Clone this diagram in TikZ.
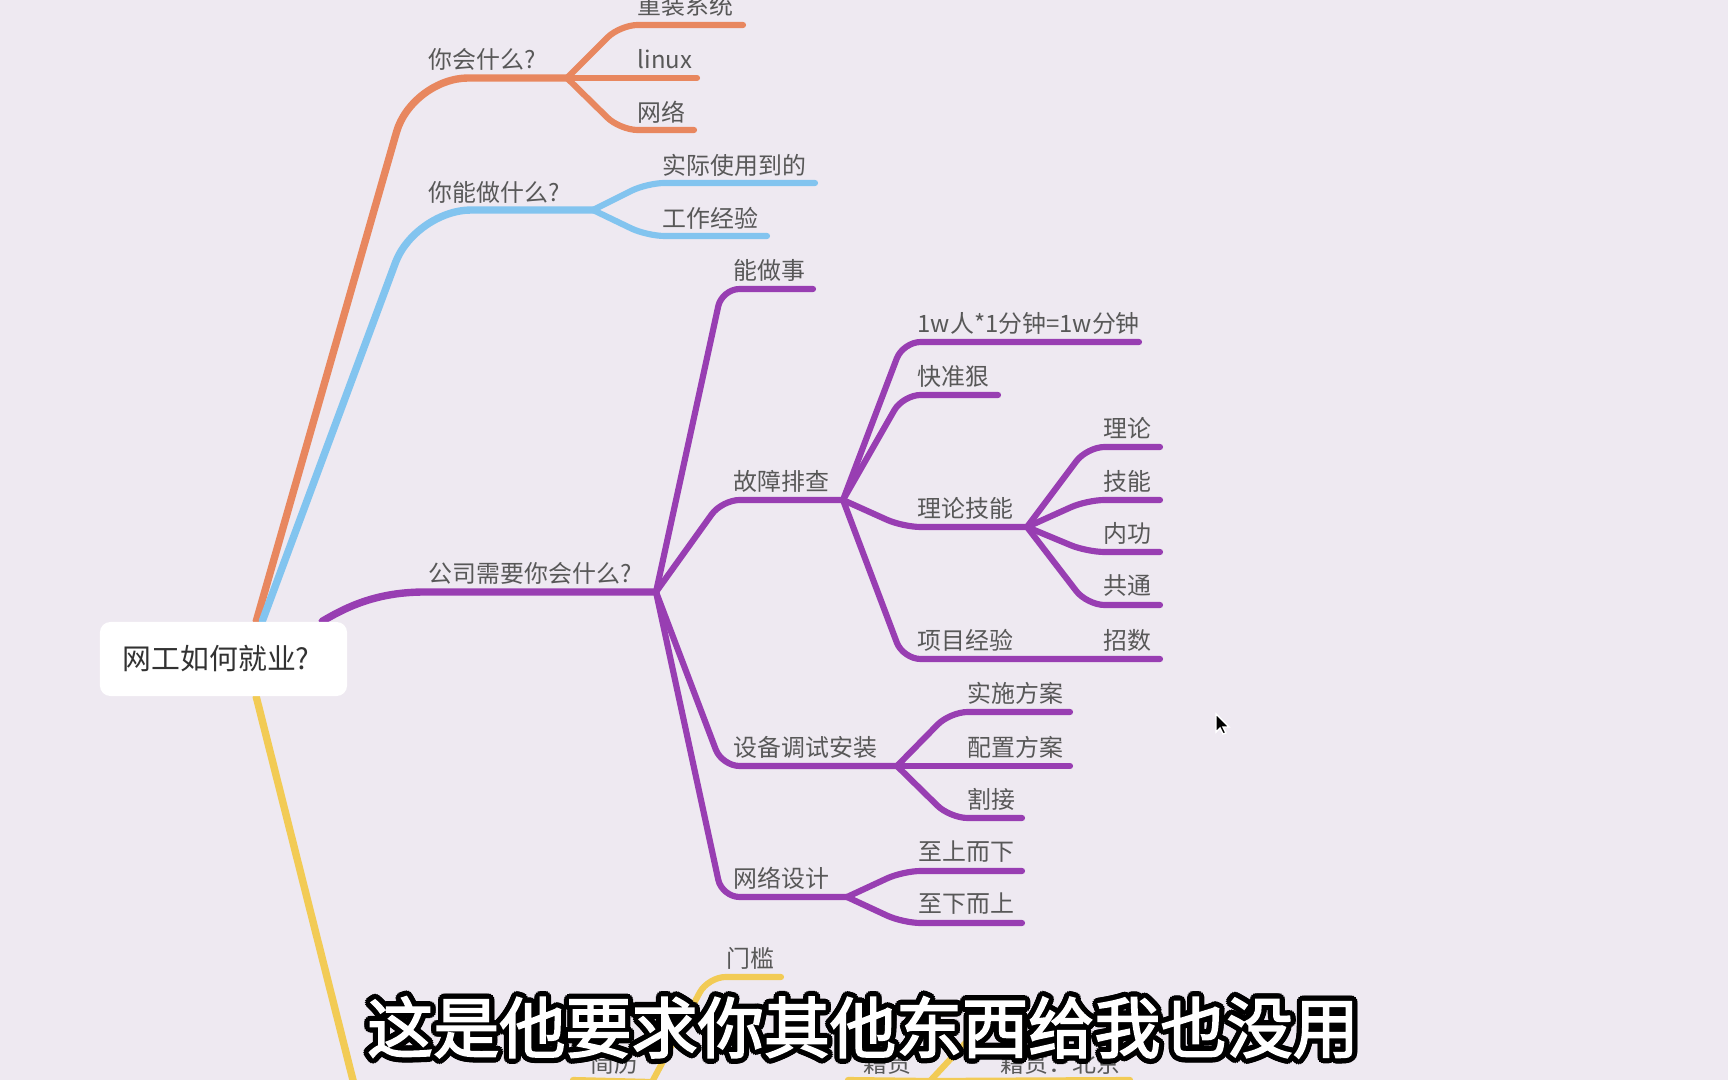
\documentclass[tikz,border=0pt]{standalone}
\usepackage{fontspec}
\setmainfont{Noto Sans CJK SC}
\newfontfamily\subfont[FakeBold=2.5]{Noto Sans CJK SC}
\usepackage{contour}
\contourlength{1.5pt}
\usetikzlibrary{calc}

\definecolor{bgc}{RGB}{238,233,241}
\definecolor{txt}{RGB}{88,88,88}
\definecolor{txtdark}{RGB}{50,50,50}
\definecolor{orng}{RGB}{232,135,95}
\definecolor{blu}{RGB}{130,196,239}
\definecolor{purp}{RGB}{152,62,178}
\definecolor{yel}{RGB}{242,203,85}

\pgfdeclarelayer{lines}
\pgfsetlayers{lines,main}

\begin{document}
\begin{tikzpicture}[x=0.01cm, y=-0.01cm,
    lbl/.style={anchor=west, inner sep=0pt, text=txt, font=\fontsize{6.8}{8}\selectfont},
    branch/.style={line width=2.1pt, line cap=round, rounded corners=16pt},
    twig/.style={line width=1.75pt, line cap=round, rounded corners=5pt}]
    \useasboundingbox (0,0) rectangle (1728,1080);

    % root
    \node[fill=white, rounded corners=3pt, inner xsep=0.23cm, inner ysep=0pt,
        text width=2.01cm, align=left, minimum height=0.74cm, text=txtdark,
        font=\fontsize{8.2}{10}\selectfont] (0) at (223.5,659) {网工如何就业?};
    \coordinate (0o) at ($(0.north west)+(157,0)$);
    \coordinate (0b) at ($(0.north west)+(163,0)$);
    \coordinate (0p) at ($(0.north west)+(223,0)$);
    \coordinate (0y) at ($(0.south west)+(157,0)$);

    % orange
    \node[lbl] (1) at (428,59) {你会什么?};
    \coordinate (1a) at (412,78);   \coordinate (1b) at (567,78);
    \node[lbl] (11) at (637,5) {重装系统};
    \coordinate (11a) at (620,25);  \coordinate (11b) at (743,25);
    \node[lbl] (12) at (637,59) {linux};
    \coordinate (12b) at (697,78);
    \node[lbl] (13) at (637,112) {网络};
    \coordinate (13a) at (620,130); \coordinate (13b) at (694,130);

    % blue
    \node[lbl] (2) at (428,192) {你能做什么?};
    \coordinate (2a) at (415,210);  \coordinate (2b) at (593,210);
    \node[lbl] (21) at (662,165) {实际使用到的};
    \coordinate (21a) at (647,183); \coordinate (21b) at (815,183);
    \node[lbl] (22) at (662,218) {工作经验};
    \coordinate (22a) at (647,236); \coordinate (22b) at (767,236);

    % purple
    \node[lbl] (3) at (428,573) {公司需要你会什么?};
    \coordinate (3a) at (425,592);  \coordinate (3b) at (656,592);
    \node[lbl] (31) at (733,270) {能做事};
    \coordinate (31a) at (722,289); \coordinate (31b) at (813,289);
    \node[lbl] (32) at (733,481) {故障排查};
    \coordinate (32a) at (722,500); \coordinate (32b) at (843,500);
    \node[lbl] (33) at (733,747) {设备调试安装};
    \coordinate (33a) at (722,766); \coordinate (33b) at (897,766);
    \node[lbl] (34) at (733,878) {网络设计};
    \coordinate (34a) at (722,897); \coordinate (34b) at (847,897);

    \node[lbl] (321) at (917,323) {1w人*1分钟=1w分钟};
    \coordinate (321a) at (903,342); \coordinate (321b) at (1139,342);
    \node[lbl] (322) at (917,376) {快准狠};
    \coordinate (322a) at (903,395); \coordinate (322b) at (998,395);
    \node[lbl] (323) at (917,508) {理论技能};
    \coordinate (323a) at (903,527); \coordinate (323b) at (1027,527);
    \node[lbl] (324) at (917,640) {项目经验};
    \coordinate (324a) at (903,659); \coordinate (324b) at (1027,659);
    \node[lbl] (3241) at (1103,640) {招数};
    \coordinate (3241b) at (1160,659);

    \node[lbl] (3231) at (1103,428) {理论};
    \coordinate (3231a) at (1087,447); \coordinate (3231b) at (1160,447);
    \node[lbl] (3232) at (1103,481) {技能};
    \coordinate (3232a) at (1087,500); \coordinate (3232b) at (1160,500);
    \node[lbl] (3233) at (1103,533) {内功};
    \coordinate (3233a) at (1087,552); \coordinate (3233b) at (1160,552);
    \node[lbl] (3234) at (1103,586) {共通};
    \coordinate (3234a) at (1087,605); \coordinate (3234b) at (1160,605);

    \node[lbl] (331) at (967,693) {实施方案};
    \coordinate (331a) at (950,712); \coordinate (331b) at (1070,712);
    \node[lbl] (332) at (967,747) {配置方案};
    \coordinate (332b) at (1070,766);
    \node[lbl] (333) at (967,799) {割接};
    \coordinate (333a) at (950,818); \coordinate (333b) at (1022,818);

    \node[lbl] (341) at (918,852) {至上而下};
    \coordinate (341a) at (903,871); \coordinate (341b) at (1022,871);
    \node[lbl] (342) at (918,904) {至下而上};
    \coordinate (342a) at (903,923); \coordinate (342b) at (1022,923);

    % yellow
    \coordinate (4a) at (358,1100);
    \node[lbl] (4) at (590,1063) {简历};
    \coordinate (4s) at (573,1080); \coordinate (4b) at (652,1082);
    \node[lbl] (41) at (726,958) {门槛};
    \coordinate (41a) at (708,977); \coordinate (41b) at (781,977);
    \node[lbl] (42) at (863,1063) {籍贯};
    \coordinate (42a) at (848,1080); \coordinate (42b) at (930,1081);
    \coordinate (421a) at (985,1022); \coordinate (421b) at (1110,1022);
    \node[lbl] (422) at (1000,1063) {籍贯：北京};
    \coordinate (422b) at (1130,1080);

    \begin{pgfonlayer}{lines}
    \fill[bgc] (0,0) rectangle (1728,1080);

    \draw[branch, orng] (0o) -- (1a) -- (1b);
    \draw[twig, orng] (1b) -- (11a) -- (11b);
    \draw[twig, orng] (1b) -- (12b);
    \draw[twig, orng] (1b) -- (13a) -- (13b);

    \draw[branch, blu] (0b) -- (2a) -- (2b);
    \draw[twig, blu] (2b) -- (21a) -- (21b);
    \draw[twig, blu] (2b) -- (22a) -- (22b);

    \draw[line width=2.1pt, line cap=round, purp] (0p)
        .. controls (348,606) and (378,592) .. (3a) -- (3b);
    \draw[twig, purp] (3b) -- (31a) -- (31b);
    \draw[twig, purp] (3b) -- (32a) -- (32b);
    \draw[twig, purp] (3b) -- (33a) -- (33b);
    \draw[twig, purp] (3b) -- (34a) -- (34b);
    \draw[twig, purp] (32b) -- (321a) -- (321b);
    \draw[twig, purp] (32b) -- (322a) -- (322b);
    \draw[twig, purp] (32b) -- (323a) -- (323b);
    \draw[twig, purp] (32b) -- (324a) -- (324b) -- (3241b);
    \draw[twig, purp] (323b) -- (3231a) -- (3231b);
    \draw[twig, purp] (323b) -- (3232a) -- (3232b);
    \draw[twig, purp] (323b) -- (3233a) -- (3233b);
    \draw[twig, purp] (323b) -- (3234a) -- (3234b);
    \draw[twig, purp] (33b) -- (331a) -- (331b);
    \draw[twig, purp] (33b) -- (332b);
    \draw[twig, purp] (33b) -- (333a) -- (333b);
    \draw[twig, purp] (34b) -- (341a) -- (341b);
    \draw[twig, purp] (34b) -- (342a) -- (342b);

    \draw[branch, yel] (0y) -- (4a);
    \draw[twig, yel] (4s) -- (4b);
    \draw[twig, yel] (4b) -- (41a) -- (41b);
    \draw[twig, yel] (42a) -- (42b) -- (422b);
    \draw[twig, yel] (42b) -- (421a) -- (421b);
    \end{pgfonlayer}

    % subtitle and pointer
    \node[text=white, inner sep=0pt, font={\subfont\fontsize{18.8}{22}\selectfont}] (sub)
        at (863,1030) {\contour{black}{这是他要求你其他东西给我也没用}};
    \filldraw[fill=black, draw=white, line width=0.4pt] (1216,714) -- (1216,732)
        -- (1220,728) -- (1223,734) -- (1226,733) -- (1223,727) -- (1229,727) -- cycle;
\end{tikzpicture}
\end{document}
